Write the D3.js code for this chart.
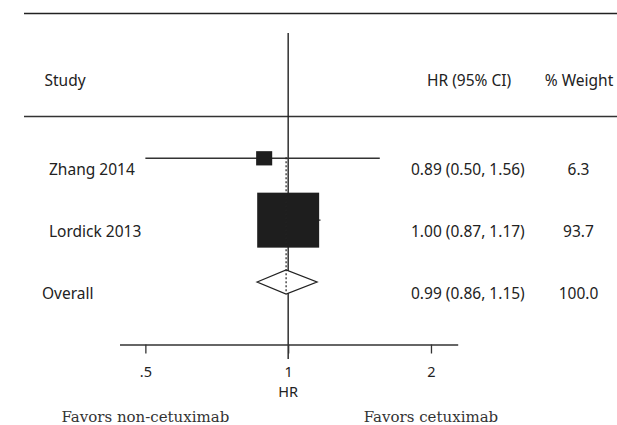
<!DOCTYPE html>
<html>
<head>
<meta charset="utf-8">
<script src="https://cdn.jsdelivr.net/npm/d3@7"></script>
<style>
  html, body { margin: 0; padding: 0; background: #fff; }
  svg { display: block; }
  .txt { font-family: "Noto Sans", sans-serif; font-size: 15.5px; fill: #222; }
  .foot { font-family: "DejaVu Serif", serif; font-size: 15px; fill: #333; }
</style>
</head>
<body>
<svg id="chart" width="617" height="425"></svg>
<script>
// Forest plot data: hazard ratios with 95% confidence intervals
const studies   = ["Zhang 2014", "Lordick 2013", "Overall"];
const hr        = [0.89, 1.00, 0.99];
const ciLow     = [0.50, 0.87, 0.86];
const ciHigh    = [1.56, 1.17, 1.15];
const weights   = [6.3, 93.7, 100.0];
const isSummary = [false, false, true];

const tickValues = [0.5, 1, 2];
const tickLabels = [".5", "1", "2"];
const headers    = { study: "Study", hr: "HR (95% CI)", weight: "% Weight" };
const axisTitle  = "HR";
const favors     = ["Favors non-cetuximab", "Favors cetuximab"];

const svg = d3.select("#chart");
const ink = "#222";

// Log-scaled hazard-ratio axis
const x = d3.scaleLog().domain([0.441, 2.277]).range([119.5, 457.7]);
const rowY = d3.scaleLinear().domain([0, studies.length - 1]).range([158.3, 282]);
const boxW = d3.scaleSqrt().domain([0, 100]).range([0, 64]);
const boxH = d3.scaleSqrt().domain([0, 100]).range([0, 56.8]);

const fmt = d3.format(".2f");
const rows = studies.map((s, i) => ({
  name: s, hr: hr[i], lo: ciLow[i], hi: ciHigh[i], w: weights[i], summary: isSummary[i], i
}));

// Table rules
svg.append("line").attr("x1", 24).attr("x2", 617).attr("y1", 13.5).attr("y2", 13.5)
  .attr("stroke", ink).attr("stroke-width", 1.7);
svg.append("line").attr("x1", 24).attr("x2", 617).attr("y1", 116.5).attr("y2", 116.5)
  .attr("stroke", "#333").attr("stroke-width", 1.7);

// Header texts
svg.append("text").attr("class", "txt").attr("x", 44.5).attr("y", 86).text(headers.study);
svg.append("text").attr("class", "txt").attr("x", 427).attr("y", 86).text(headers.hr);
svg.append("text").attr("class", "txt").attr("x", 579).attr("y", 86)
  .attr("text-anchor", "middle").text(headers.weight);

// Line of no effect
svg.append("line").attr("x1", x(1)).attr("x2", x(1)).attr("y1", 33).attr("y2", 359)
  .attr("stroke", ink).attr("stroke-width", 1.4);

// Axis
const axisG = svg.append("g").attr("transform", "translate(0,344.5)")
  .call(d3.axisBottom(x).tickValues(tickValues)
    .tickFormat((d, i) => tickLabels[i]).tickSize(9).tickSizeOuter(0));
axisG.select(".domain").attr("stroke", "#333").attr("stroke-width", 1.5);
axisG.selectAll(".tick line").attr("stroke", "#333").attr("stroke-width", 1.3);
axisG.selectAll(".tick text").attr("class", "txt").attr("y", 32).attr("dy", null)
  .style("font-size", "14.5px").attr("fill", ink);
svg.append("text").attr("class", "txt").attr("x", x(1)).attr("y", 396.5)
  .style("font-size", "14.5px").attr("text-anchor", "middle").text(axisTitle);

// Study rows: confidence interval lines and weighted boxes
const studyRows = rows.filter(d => !d.summary);
svg.selectAll(".ci").data(studyRows).join("line")
  .attr("x1", d => x(d.lo)).attr("x2", d => x(d.hi))
  .attr("y1", d => rowY(d.i)).attr("y2", d => rowY(d.i))
  .attr("stroke", "#333").attr("stroke-width", 1.4);
svg.selectAll(".box").data(studyRows).join("rect")
  .attr("x", d => x(d.hr) - boxW(d.w) / 2)
  .attr("y", d => rowY(d.i) - boxH(d.w) / 2)
  .attr("width", d => boxW(d.w)).attr("height", d => boxH(d.w))
  .attr("fill", "#1e1e1e");

// Pooled estimate diamond
const pooled = rows.filter(d => d.summary);
svg.selectAll(".diamond").data(pooled).join("path")
  .attr("d", d => {
    const y0 = rowY(d.i);
    return `M${x(d.lo)},${y0}L${x(d.hr)},${y0 - 12}L${x(d.hi)},${y0}L${x(d.hr)},${y0 + 12}Z`;
  })
  .attr("fill", "#fff").attr("stroke", ink).attr("stroke-width", 1.3);

// Dotted reference line at the pooled estimate
pooled.forEach(d => {
  svg.append("line").attr("x1", x(d.hr)).attr("x2", x(d.hr))
    .attr("y1", rowY(0) - 1).attr("y2", rowY(d.i) + 10)
    .attr("stroke", ink).attr("stroke-width", 1.2).attr("stroke-dasharray", "2,2");
});

// Row labels and columns
svg.selectAll(".name").data(rows).join("text").attr("class", "txt")
  .attr("x", d => d.summary ? 42 : 49).attr("y", d => rowY(d.i) + 17).text(d => d.name);
svg.selectAll(".hrtxt").data(rows).join("text").attr("class", "txt")
  .attr("x", 411).attr("y", d => rowY(d.i) + 17)
  .text(d => `${fmt(d.hr)} (${fmt(d.lo)}, ${fmt(d.hi)})`);
svg.selectAll(".wtxt").data(rows).join("text").attr("class", "txt")
  .attr("x", 578.5).attr("y", d => rowY(d.i) + 17).attr("text-anchor", "middle")
  .text(d => d3.format(".1f")(d.w));

// Direction labels under the axis
svg.append("text").attr("class", "foot").attr("x", x(tickValues[0])).attr("y", 421.5)
  .attr("text-anchor", "middle").text(favors[0]);
svg.append("text").attr("class", "foot").attr("x", x(tickValues[2])).attr("y", 421.5)
  .attr("text-anchor", "middle").text(favors[1]);
</script>
</body>
</html>
